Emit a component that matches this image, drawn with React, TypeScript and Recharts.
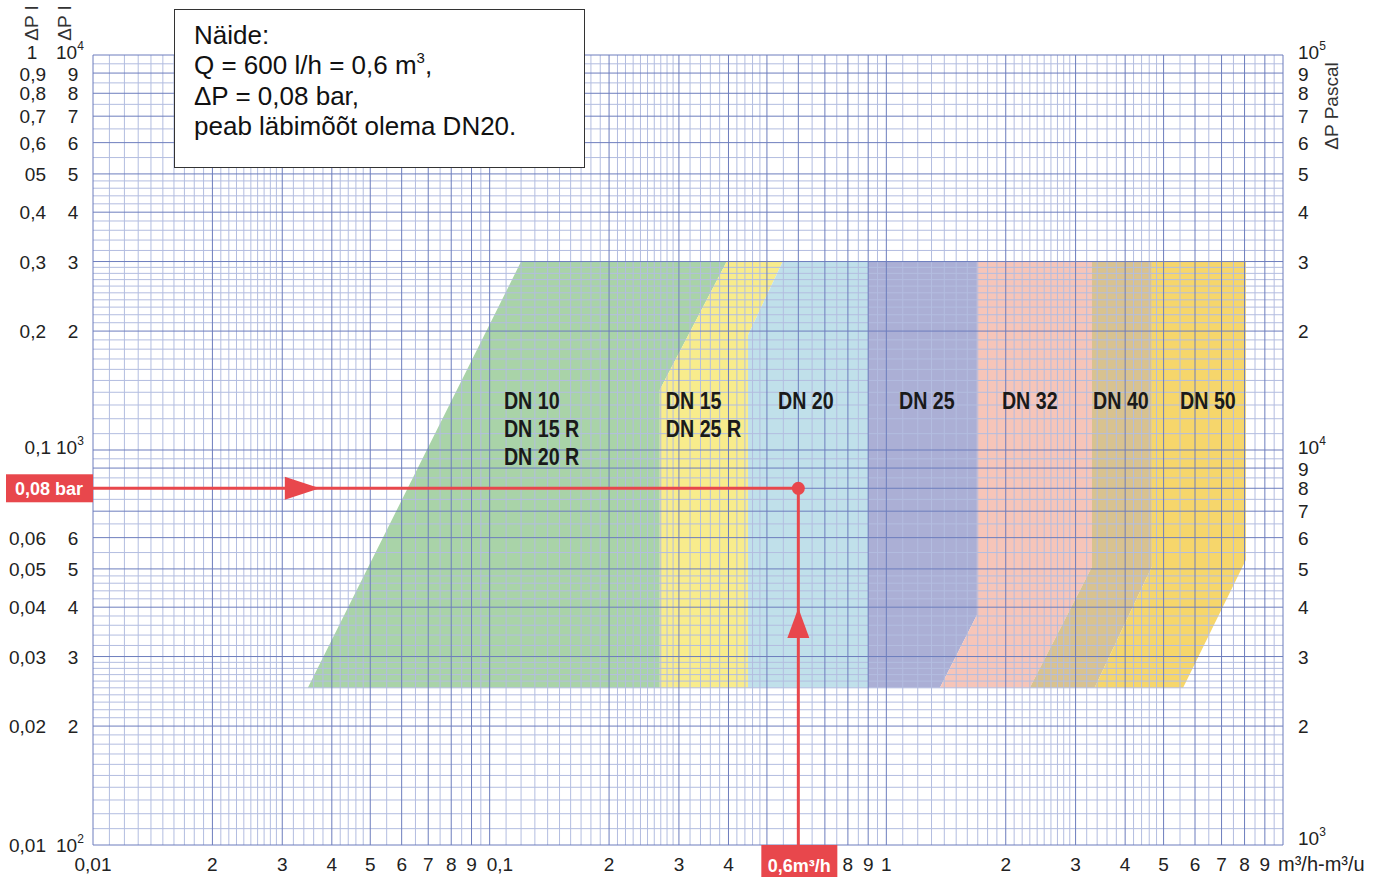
import React from "react";
import {
  ComposedChart,
  XAxis,
  YAxis,
  CartesianGrid,
  Area,
  Line,
  Scatter,
} from "recharts";

const RED = "#e8474c";
const FONT = "'Liberation Sans', Arial, Helvetica, sans-serif";

// flow Q, m3/h (log axis)
const flowTicks = [0.01, 0.02, 0.03, 0.04, 0.05, 0.06, 0.07, 0.08, 0.09, 0.1, 0.2, 0.3, 0.4, 0.6, 0.8, 0.9, 1, 2, 3, 4, 5, 6, 7, 8, 9, 10];
const flowLabels = ["0,01", "2", "3", "4", "5", "6", "7", "8", "9", "0,1", "2", "3", "4", "0,6m³/h", "8", "9", "1", "2", "3", "4", "5", "6", "7", "8", "9", "m³/h-m³/u"];

// pressure drop, bar (left) and Pascal (both sides)
const barTicks = [1, 0.9, 0.8, 0.7, 0.6, 0.5, 0.4, 0.3, 0.2, 0.1, 0.08, 0.06, 0.05, 0.04, 0.03, 0.02, 0.01];
const barLabels = ["1", "0,9", "0,8", "0,7", "0,6", "05", "0,4", "0,3", "0,2", "0,1", "0,08 bar", "0,06", "0,05", "0,04", "0,03", "0,02", "0,01"];
const paLeftLabels = ["10^4", "9", "8", "7", "6", "5", "4", "3", "2", "10^3", "", "6", "5", "4", "3", "2", "10^2"];
const paRightTicks = [1, 0.9, 0.8, 0.7, 0.6, 0.5, 0.4, 0.3, 0.2, 0.1, 0.09, 0.08, 0.07, 0.06, 0.05, 0.04, 0.03, 0.02, 0.01];
const paRightLabels = ["10^5", "9", "8", "7", "6", "5", "4", "3", "2", "10^4", "9", "8", "7", "6", "5", "4", "3", "2", "10^3"];

// log paper
const majorSteps = [1, 2, 3, 4, 5, 6, 7, 8, 9];
const minorSteps = [1.1, 1.2, 1.3, 1.4, 1.5, 1.6, 1.7, 1.8, 1.9, 2.1, 2.2, 2.3, 2.4, 2.5, 2.6, 2.7, 2.8, 2.9, 3.2, 3.4, 3.6, 3.8, 4.2, 4.4, 4.6, 4.8, 5.5, 6.5, 7.5, 8.5, 9.5];
const flowDecades = [0.01, 0.1, 1];
const dpDecades = [0.01, 0.1];

const onPaper = (decades: number[], steps: number[], extra: number[] = []) => [
  ...decades.flatMap((d) => steps.map((s) => Number((s * d).toPrecision(4)))),
  ...extra,
];

// meter size bands: lo/hi = ΔP range at flow q
const dn10Band = [
  { q: 0.0348, lo: 0.025, hi: 0.025 },
  { q: 0.12, lo: 0.025, hi: 0.3 },
  { q: 0.2685, lo: 0.025, hi: 0.3 },
  { q: 0.2685, lo: 0.142, hi: 0.3 },
  { q: 0.396, lo: 0.3, hi: 0.3 },
];
const dn15Band = [
  { q: 0.2685, lo: 0.025, hi: 0.142 },
  { q: 0.396, lo: 0.025, hi: 0.3 },
  { q: 0.448, lo: 0.025, hi: 0.3 },
  { q: 0.448, lo: 0.1955, hi: 0.3 },
  { q: 0.548, lo: 0.3, hi: 0.3 },
];
const dn20Band = [
  { q: 0.448, lo: 0.025, hi: 0.1955 },
  { q: 0.548, lo: 0.025, hi: 0.3 },
  { q: 0.899, lo: 0.025, hi: 0.3 },
];
const dn25Band = [
  { q: 0.899, lo: 0.025, hi: 0.3 },
  { q: 1.365, lo: 0.025, hi: 0.3 },
  { q: 1.692, lo: 0.0382, hi: 0.3 },
  { q: 1.692, lo: 0.3, hi: 0.3 },
];
const dn32Band = [
  { q: 1.365, lo: 0.025, hi: 0.025 },
  { q: 1.692, lo: 0.025, hi: 0.0382 },
  { q: 1.692, lo: 0.025, hi: 0.3 },
  { q: 2.3, lo: 0.025, hi: 0.3 },
  { q: 3.3, lo: 0.0506, hi: 0.3 },
  { q: 3.3, lo: 0.3, hi: 0.3 },
];
const dn40Band = [
  { q: 2.3, lo: 0.025, hi: 0.025 },
  { q: 3.3, lo: 0.025, hi: 0.0506 },
  { q: 3.3, lo: 0.025, hi: 0.3 },
  { q: 3.35, lo: 0.025, hi: 0.3 },
  { q: 4.67, lo: 0.0506, hi: 0.3 },
  { q: 4.67, lo: 0.3, hi: 0.3 },
];
const dn50Band = [
  { q: 3.35, lo: 0.025, hi: 0.025 },
  { q: 4.67, lo: 0.025, hi: 0.0506 },
  { q: 4.67, lo: 0.025, hi: 0.3 },
  { q: 5.6, lo: 0.025, hi: 0.3 },
  { q: 8.06, lo: 0.0527, hi: 0.3 },
  { q: 8.06, lo: 0.3, hi: 0.3 },
];

const dnLabels = [
  { q: 0.1086, p: 0.133, lines: ["DN 10", "DN 15 R", "DN 20 R"] },
  { q: 0.278, p: 0.133, lines: ["DN 15", "DN 25 R"] },
  { q: 0.533, p: 0.133, lines: ["DN 20"] },
  { q: 1.076, p: 0.133, lines: ["DN 25"] },
  { q: 1.956, p: 0.133, lines: ["DN 32"] },
  { q: 3.32, p: 0.133, lines: ["DN 40"] },
  { q: 5.5, p: 0.133, lines: ["DN 50"] },
];

// worked example: Q = 0.6 m3/h, ΔP = 0.08 bar
const exampleQ = 0.6;
const exampleDp = 0.08;
const dpLine = [{ q: 0.01, p: exampleDp }, { q: exampleQ, p: exampleDp }];
const qLine = [{ q: exampleQ, p: 0.01 }, { q: exampleQ, p: exampleDp }];
const rightArrow = [{ q: 0.0336, p: exampleDp }];
const upArrow = [{ q: exampleQ, p: 0.0365 }];
const examplePoint = [{ q: exampleQ, p: exampleDp }];

const Pow = ({ x, y, text, anchor }: any) => {
  const [base, exp] = text.split("^");
  return (
    <text x={x} y={y} textAnchor={anchor} fontFamily={FONT} fontSize={19} fill="#222">
      {base}
      {exp && (
        <tspan dy={-9} fontSize={12}>
          {exp}
        </tspan>
      )}
    </text>
  );
};

// small nudges so stacked labels near decade marks don't collide
const nudge = (v: number) => (v === 1 || v === 0.1 ? -3 : v === 0.9 || v === 0.09 ? 1 : 0);

const FlowTick = ({ x, y, payload }: any) => {
  const label = flowLabels[flowTicks.indexOf(payload.value)];
  if (payload.value === exampleQ) {
    return (
      <g>
        <rect x={x - 37} y={y} width={76} height={32} fill={RED} />
        <text x={x + 1} y={y + 27} textAnchor="middle" fontFamily={FONT} fontSize={18} fontWeight="bold" fill="#fff">
          {label}
        </text>
      </g>
    );
  }
  if (payload.value === 10) {
    return (
      <text x={x - 5} y={y + 26} textAnchor="start" fontFamily={FONT} fontSize={20} fill="#222">
        {label}
      </text>
    );
  }
  if (payload.value === 0.1) {
    return (
      <text x={x - 3} y={y + 26} textAnchor="start" fontFamily={FONT} fontSize={19} fill="#222">
        {label}
      </text>
    );
  }
  return (
    <text x={x} y={y + 26} textAnchor="middle" fontFamily={FONT} fontSize={19} fill="#222">
      {label}
    </text>
  );
};

const BarTick = ({ x, y, payload }: any) => {
  const v = payload.value;
  const i = barTicks.indexOf(v);
  const bar = barLabels[i];
  const pa = paLeftLabels[i] ?? "";
  if (v === exampleDp) {
    return (
      <g>
        <rect x={x - 87} y={y - 14} width={87} height={28} fill={RED} />
        <text x={x - 44} y={y + 7} textAnchor="middle" fontFamily={FONT} fontSize={18} fontWeight="bold" fill="#fff">
          {bar}
        </text>
      </g>
    );
  }
  const ty = y + 7 + nudge(v);
  return (
    <g>
      <text
        x={v === 1 ? x - 61 : v === 0.1 ? x - 42 : x - 47}
        y={ty}
        textAnchor={v === 1 ? "middle" : "end"}
        fontFamily={FONT}
        fontSize={19}
        fill="#222"
      >
        {bar}
      </text>
      {pa.includes("^") ? (
        <Pow x={x - 37} y={ty} text={pa} anchor="start" />
      ) : (
        <Pow x={x - 20} y={ty} text={pa} anchor="middle" />
      )}
    </g>
  );
};

const PaTick = ({ x, y, payload }: any) => {
  const v = payload.value;
  const label = paRightLabels[paRightTicks.indexOf(v)] ?? "";
  const lift = v === 0.01 ? -7 : nudge(v);
  return <Pow x={x + 15} y={y + 7 + lift} text={label} anchor="start" />;
};

const RightArrow = ({ cx, cy }: any) => (
  <polygon points={`${cx + 18},${cy} ${cx - 17},${cy - 11.5} ${cx - 17},${cy + 11.5}`} fill={RED} />
);
const UpArrow = ({ cx, cy }: any) => (
  <polygon points={`${cx},${cy - 15} ${cx - 11},${cy + 15} ${cx + 11},${cy + 15}`} fill={RED} />
);
const Dot = ({ cx, cy }: any) => <circle cx={cx} cy={cy} r={6.5} fill={RED} />;

const DnLabel = ({ cx, cy, payload }: any) => (
  <g transform={`translate(${cx},${cy}) scale(0.82,1)`}>
    {payload.lines.map((t: string, i: number) => (
      <text key={t} x={0} y={i * 28} dominantBaseline="central" fontFamily={FONT} fontSize={24} fontWeight="bold" fill="#1a1a1a">
        {t}
      </text>
    ))}
  </g>
);

const range = (d: any) => [d.lo, d.hi];

const rotated = (left: number, top: number): React.CSSProperties => ({
  position: "absolute",
  left,
  top,
  transform: "translate(-50%, -50%) rotate(-90deg)",
  whiteSpace: "nowrap",
  fontFamily: FONT,
  fontSize: 19,
  color: "#333",
});

export default function App() {
  return (
    <div style={{ position: "absolute", left: 0, top: 0, width: 1373, height: 877, background: "#fff", overflow: "hidden" }}>
      <ComposedChart width={1373} height={877} margin={{ top: 55, right: 0, bottom: 0, left: 0 }}>
        <XAxis
          dataKey="q"
          type="number"
          scale="log"
          domain={[0.01, 10]}
          allowDataOverflow
          ticks={flowTicks}
          interval={0}
          height={32}
          tickSize={0}
          tickMargin={0}
          axisLine={false}
          tickLine={false}
          tick={(p: any) => <FlowTick {...p} />}
        />
        <YAxis
          yAxisId="bar"
          type="number"
          scale="log"
          domain={[0.01, 1]}
          allowDataOverflow
          ticks={barTicks}
          interval={0}
          width={93}
          tickSize={0}
          tickMargin={0}
          axisLine={false}
          tickLine={false}
          tick={(p: any) => <BarTick {...p} />}
        />
        <YAxis
          yAxisId="pa"
          orientation="right"
          type="number"
          scale="log"
          domain={[0.01, 1]}
          allowDataOverflow
          ticks={paRightTicks}
          interval={0}
          width={90}
          tickSize={0}
          tickMargin={0}
          axisLine={false}
          tickLine={false}
          tick={(p: any) => <PaTick {...p} />}
        />

        <Area yAxisId="bar" data={dn10Band} dataKey={range} type="linear" stroke="none" fill="#a9d3a8" fillOpacity={1} isAnimationActive={false} dot={false} activeDot={false} />
        <Area yAxisId="bar" data={dn15Band} dataKey={range} type="linear" stroke="none" fill="#f8ec8c" fillOpacity={1} isAnimationActive={false} dot={false} activeDot={false} />
        <Area yAxisId="bar" data={dn20Band} dataKey={range} type="linear" stroke="none" fill="#c0e0ea" fillOpacity={1} isAnimationActive={false} dot={false} activeDot={false} />
        <Area yAxisId="bar" data={dn25Band} dataKey={range} type="linear" stroke="none" fill="#abafd5" fillOpacity={1} isAnimationActive={false} dot={false} activeDot={false} />
        <Area yAxisId="bar" data={dn32Band} dataKey={range} type="linear" stroke="none" fill="#f6c5b9" fillOpacity={1} isAnimationActive={false} dot={false} activeDot={false} />
        <Area yAxisId="bar" data={dn40Band} dataKey={range} type="linear" stroke="none" fill="#d8c290" fillOpacity={1} isAnimationActive={false} dot={false} activeDot={false} />
        <Area yAxisId="bar" data={dn50Band} dataKey={range} type="linear" stroke="none" fill="#f6d66b" fillOpacity={1} isAnimationActive={false} dot={false} activeDot={false} />

        <CartesianGrid
          yAxisId="bar"
          zIndex={200}
          verticalValues={onPaper(flowDecades, minorSteps)}
          horizontalValues={onPaper(dpDecades, minorSteps)}
          stroke="#b3bde0"
          strokeWidth={1}
        />
        <CartesianGrid
          yAxisId="bar"
          zIndex={201}
          verticalValues={onPaper(flowDecades, majorSteps, [10])}
          horizontalValues={onPaper(dpDecades, majorSteps, [1])}
          stroke="#6d7dbd"
          strokeWidth={1}
        />

        <Line yAxisId="bar" data={dpLine} dataKey="p" type="linear" stroke={RED} strokeWidth={3} dot={false} activeDot={false} isAnimationActive={false} />
        <Line yAxisId="bar" data={qLine} dataKey="p" type="linear" stroke={RED} strokeWidth={3} dot={false} activeDot={false} isAnimationActive={false} />
        <Scatter yAxisId="bar" data={rightArrow} dataKey="p" shape={(p: any) => <RightArrow {...p} />} isAnimationActive={false} />
        <Scatter yAxisId="bar" data={upArrow} dataKey="p" shape={(p: any) => <UpArrow {...p} />} isAnimationActive={false} />
        <Scatter yAxisId="bar" data={examplePoint} dataKey="p" shape={(p: any) => <Dot {...p} />} isAnimationActive={false} />
        <Scatter yAxisId="bar" data={dnLabels} dataKey="p" shape={(p: any) => <DnLabel {...p} />} isAnimationActive={false} />
      </ComposedChart>

      <div
        style={{
          position: "absolute",
          left: 174,
          top: 9,
          width: 411,
          height: 159,
          boxSizing: "border-box",
          border: "1.5px solid #333",
          background: "#fff",
          padding: "10px 0 0 19px",
          fontFamily: FONT,
          fontSize: 26,
          lineHeight: "30.3px",
          color: "#111",
        }}
      >
        <div>Näide:</div>
        <div>
          Q = 600 l/h = 0,6 m
          <span style={{ fontSize: 15, lineHeight: 0, position: "relative", top: -11 }}>3</span>,
        </div>
        <div>ΔP = 0,08 bar,</div>
        <div>peab läbimõõt olema DN20.</div>
      </div>

      <div style={rotated(32, 23)}>ΔP I</div>
      <div style={rotated(65, 23)}>ΔP I</div>
      <div style={rotated(1332, 106)}>ΔP Pascal</div>
    </div>
  );
}
